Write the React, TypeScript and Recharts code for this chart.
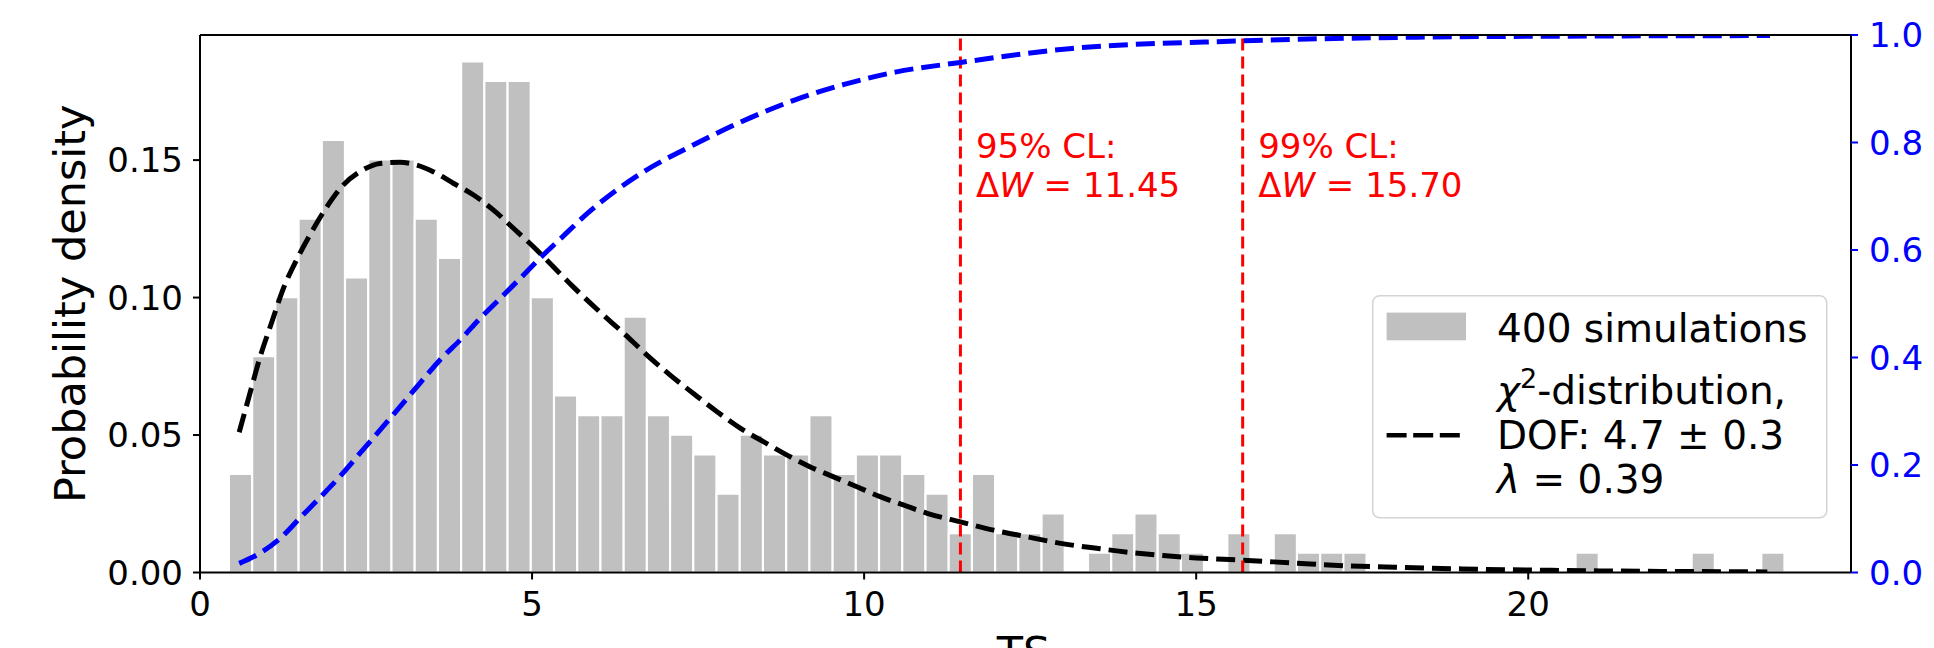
import React from 'react';
import { ComposedChart, Bar, Line, XAxis, YAxis, ReferenceLine, Legend } from 'recharts';

const FONT = "'DejaVu Sans', sans-serif";

// Histogram bins (centres, TS) and densities (400 simulations)
const binCenters = [
  0.6118, 0.9614, 1.311, 1.6606, 2.0102, 2.3598, 2.7094, 3.059, 3.4086, 3.7582,
  4.1078, 4.4574, 4.807, 5.1566, 5.5062, 5.8558, 6.2054, 6.555, 6.9046, 7.2542,
  7.6038, 7.9534, 8.303, 8.6526, 9.0022, 9.3518, 9.7014, 10.051, 10.4006, 10.7502,
  11.0998, 11.4494, 11.799, 12.1486, 12.4982, 12.8478, 13.1974, 13.547, 13.8966, 14.2462,
  14.5958, 14.9454, 15.295, 15.6446, 15.9942, 16.3438, 16.6934, 17.043, 17.3926, 17.7422,
  18.0918, 18.4414, 18.791, 19.1406, 19.4902, 19.8398, 20.1894, 20.539, 20.8886, 21.2382,
  21.5878, 21.9374, 22.287, 22.6366, 22.9862, 23.3358, 23.6854,
];
const binDensity = [
  0.0358, 0.0787, 0.1001, 0.1287, 0.1573, 0.1073, 0.1502, 0.1502, 0.1287, 0.1144,
  0.1859, 0.1788, 0.1788, 0.1001, 0.0644, 0.0572, 0.0572, 0.093, 0.0572, 0.0501,
  0.0429, 0.0286, 0.0501, 0.0429, 0.0429, 0.0572, 0.0358, 0.0429, 0.0429, 0.0358,
  0.0286, 0.0143, 0.0358, 0.0143, 0.0143, 0.0215, 0, 0.0072, 0.0143, 0.0215,
  0.0143, 0.0072, 0, 0.0143, 0, 0.0143, 0.0072, 0.0072, 0.0072, 0,
  0, 0, 0, 0, 0, 0, 0, 0, 0.0072, 0,
  0, 0, 0, 0.0072, 0, 0, 0.0072,
];

// chi^2 pdf curve (left axis)
const pdfX = [
  0.59, 0.75, 0.9, 1.08, 1.25, 1.46, 1.66, 1.91, 2.16, 2.41,
  2.71, 3.01, 3.26, 3.51, 3.82, 4.12, 4.42, 4.72, 5.02, 5.32,
  5.62, 6.02, 6.38, 6.73, 7.08, 7.43, 7.79, 8.14, 8.49, 8.84,
  9.19, 9.54, 9.9, 10.25, 10.6, 10.95, 11.45, 11.95, 12.45, 12.96,
  13.5, 14.0, 14.5, 15.0, 15.7, 16.5, 17.3, 18.0, 19.0, 20.0,
  21.0, 22.0, 23.0, 23.6,
];
const pdfY = [
  0.051, 0.065, 0.078, 0.091, 0.103, 0.114, 0.123, 0.133, 0.141, 0.1458,
  0.1488, 0.1492, 0.1482, 0.1458, 0.1415, 0.1373, 0.1318, 0.1252, 0.1185, 0.1112,
  0.1039, 0.0948, 0.087, 0.0791, 0.0718, 0.0651, 0.0584, 0.0524, 0.0475, 0.0427,
  0.0384, 0.0348, 0.0311, 0.0275, 0.0245, 0.0215, 0.0184, 0.0154, 0.013, 0.0106,
  0.0088, 0.0073, 0.0062, 0.0053, 0.0045, 0.0034, 0.0024, 0.0019, 0.0013, 0.0009,
  0.0006, 0.0004, 0.0003, 0.0002,
];

// cumulative curve (right axis)
const cdfX = [
  0.59, 0.9, 1.21, 1.51, 1.81, 2.11, 2.41, 2.71, 3.01, 3.31,
  3.61, 3.92, 4.22, 4.52, 4.82, 5.12, 5.42, 5.85, 6.62, 7.39,
  8.16, 8.93, 9.7, 10.47, 11.45, 13.13, 15.69, 18.32, 20.92, 23.64,
];
const cdfY = [
  0.017, 0.036, 0.064, 0.102, 0.14, 0.179, 0.222, 0.265, 0.308, 0.352,
  0.395, 0.433, 0.473, 0.51, 0.547, 0.585, 0.62, 0.67, 0.741, 0.793,
  0.839, 0.878, 0.908, 0.931, 0.949, 0.975, 0.989, 0.996, 0.998, 0.999,
];

const xTicks = [0, 5, 10, 15, 20];
const leftTicks = [0, 0.05, 0.1, 0.15];
const rightTicks = [0, 0.2, 0.4, 0.6, 0.8, 1.0];
const X_MAX = 24.86;
const LEFT_MAX = 0.1955;

const clLevels = [95, 99];
const clValues = [11.45, 15.7];

const histRows = binCenters.map((ts, i) => ({ ts, density: binDensity[i] }));
const pdfRows = pdfX.map((ts, i) => ({ ts, pdf: pdfY[i] }));
const cdfRows = cdfX.map((ts, i) => ({ ts, cdf: cdfY[i] }));

function YTitle(props: any) {
  const vb = props.viewBox || { x: 0, y: 35, width: 200, height: 537.5 };
  const cx = vb.x + vb.width - 115;
  const cy = vb.y + vb.height / 2;
  return (
    <text x={cx} y={cy} transform={`rotate(-90, ${cx}, ${cy})`} textAnchor="middle"
      fontSize={43} fontFamily={FONT} fill="#000">Probability density</text>
  );
}

function XTitle(props: any) {
  const vb = props.viewBox || { x: 200, y: 572.5, width: 1651, height: 75.5 };
  return (
    <text x={vb.x + vb.width / 2 - 2} y={vb.y + 94} textAnchor="middle"
      fontSize={43} fontFamily={FONT} fill="#000">TS</text>
  );
}

function CLLabel(props: any) {
  const vb = props.viewBox || { x: 0, y: 35 };
  const x = vb.x + 15.5;
  const y = vb.y;
  return (
    <text fill="#ff0000" fontSize={34} fontFamily={FONT}>
      <tspan x={x} y={y + 123}>{`${props.level}% CL:`}</tspan>
      <tspan x={x} y={y + 162}>Δ<tspan fontStyle="italic">W</tspan>{` = ${props.value}`}</tspan>
    </text>
  );
}

function LegendBox() {
  return (
    <svg width={456} height={224} style={{ display: 'block' }}>
      <rect x={0.75} y={0.75} width={454} height={222} rx={7} ry={7} fill="#ffffff" fillOpacity={0.8}
        stroke="#d4d4d4" strokeWidth={1.5} />
      <rect x={14.6} y={17.6} width={79.4} height={27.7} fill="#c0c0c0" />
      <text x={125} y={46.6} fontSize={39} fontFamily={FONT} fill="#000">400 simulations</text>
      <line x1={14.6} x2={94} y1={140.3} y2={140.3} stroke="#000" strokeWidth={4.5} strokeDasharray="20 6.6" />
      <text fontSize={39} fontFamily={FONT} fill="#000">
        <tspan x={125} y={109.3}><tspan fontStyle="italic">χ</tspan><tspan fontSize={27} dy={-16}>2</tspan><tspan dy={16}>-distribution,</tspan></tspan>
        <tspan x={125} y={153.6}>DOF: 4.7 ± 0.3</tspan>
        <tspan x={125} y={197.6}><tspan fontStyle="italic">λ</tspan> = 0.39</tspan>
      </text>
    </svg>
  );
}

export default function App() {
  return (
    <div style={{ position: 'absolute', left: 0, top: 0, width: 1934, height: 648, background: '#ffffff' }}>
      <ComposedChart width={1934} height={648} data={histRows}
        margin={{ top: 35, right: 0, bottom: 0, left: 0 }} barCategoryGap={0} barGap={0}>
        <Bar xAxisId="bins" yAxisId="left" dataKey="density" fill="#c0c0c0" stroke="#ffffff" strokeWidth={2}
          isAnimationActive={false} />
        <Line xAxisId="ts" yAxisId="left" data={pdfRows} dataKey="pdf" type="monotone" stroke="#000000"
          strokeWidth={5} strokeDasharray="19 8" dot={false} activeDot={false} isAnimationActive={false} />
        {clValues.map((v, i) => (
          <ReferenceLine key={`cl${i}`} xAxisId="ts" yAxisId="left" x={v} stroke="#ff0000" strokeWidth={3}
            strokeDasharray="12 6" label={<CLLabel level={clLevels[i]} value={v.toFixed(2)} />} />
        ))}
        <Line xAxisId="ts" yAxisId="right" data={cdfRows} dataKey="cdf" type="monotone" stroke="#0000ff"
          strokeWidth={5} strokeDasharray="19 8" dot={false} activeDot={false} isAnimationActive={false} />
        <ReferenceLine xAxisId="ts" yAxisId="left" y={LEFT_MAX} stroke="#000000" strokeWidth={2} />
        <XAxis xAxisId="ts" dataKey="ts" type="number" domain={[0, X_MAX]} ticks={xTicks} interval={0}
          height={75.5} tickSize={7} tickMargin={12} allowDataOverflow
          axisLine={{ stroke: '#000', strokeWidth: 2 }} tickLine={{ stroke: '#000', strokeWidth: 2 }}
          tick={{ fontSize: 34, fill: '#000', fontFamily: FONT }} label={<XTitle />} />
        <XAxis xAxisId="bins" dataKey="ts" type="number" domain={[0, X_MAX]} hide height={0} allowDataOverflow />
        <YAxis yAxisId="left" orientation="left" type="number" domain={[0, LEFT_MAX]} ticks={leftTicks}
          interval={0} width={200} tickSize={7} tickMargin={10} allowDataOverflow
          tickFormatter={(v: number) => v.toFixed(2)}
          axisLine={{ stroke: '#000', strokeWidth: 2 }} tickLine={{ stroke: '#000', strokeWidth: 2 }}
          tick={{ fontSize: 34, fill: '#000', fontFamily: FONT }} label={<YTitle />} />
        <YAxis yAxisId="right" orientation="right" type="number" domain={[0, 1]} ticks={rightTicks}
          interval={0} width={83} tickSize={7} tickMargin={11} allowDataOverflow
          tickFormatter={(v: number) => v.toFixed(1)}
          axisLine={{ stroke: '#000', strokeWidth: 2 }} tickLine={{ stroke: '#0000ff', strokeWidth: 2 }}
          tick={{ fontSize: 34, fill: '#0000ff', fontFamily: FONT }} />
        <Legend layout="horizontal" verticalAlign="middle" align="center"
          wrapperStyle={{ left: 1372, top: 295, width: 456, height: 224 }}
          content={() => <LegendBox />} />
      </ComposedChart>
    </div>
  );
}
